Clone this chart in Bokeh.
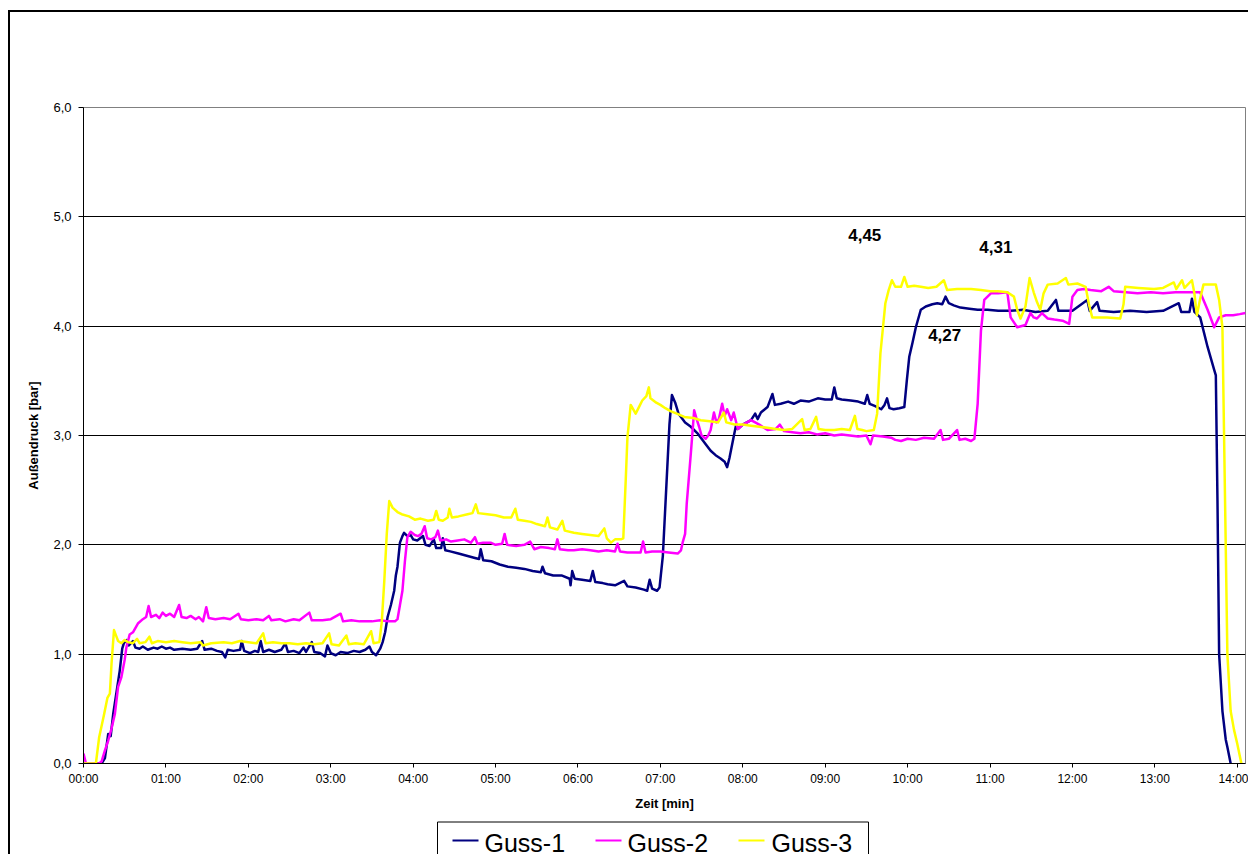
from bokeh.plotting import figure
from bokeh.models import Range1d, FixedTicker, Label
from bokeh.layouts import column
from bokeh.core.properties import value
from bokeh.embed import file_html
from bokeh.resources import INLINE

# ---------------- data (time in minutes, pressure in bar) ----------------
g1_t = [0.0, 0.22, 0.26, 0.3, 0.33, 0.36, 0.4, 0.44, 0.47, 0.49, 0.52, 0.55, 0.6, 0.63, 0.68, 0.72, 0.78, 0.85, 0.9, 0.95,
        1.0, 1.05, 1.1, 1.2, 1.3, 1.38, 1.44, 1.47, 1.55, 1.62, 1.68, 1.72, 1.75, 1.82, 1.9, 1.92, 1.95, 2.02, 2.08, 2.12,
        2.15, 2.18, 2.25, 2.32, 2.4, 2.45, 2.48, 2.55, 2.62, 2.67, 2.7, 2.77, 2.8, 2.87, 2.93, 2.96, 3.0, 3.06, 3.12, 3.2,
        3.28, 3.35, 3.42, 3.47, 3.5, 3.55, 3.6, 3.63, 3.66, 3.69, 3.73, 3.77, 3.79, 3.81, 3.84, 3.87, 3.89, 3.93, 3.97, 4.0,
        4.05, 4.12, 4.15, 4.2, 4.25, 4.28, 4.34, 4.36, 4.39, 4.45, 4.55, 4.65, 4.75, 4.8, 4.82, 4.85, 4.95, 5.05, 5.15, 5.25,
        5.35, 5.45, 5.55, 5.57, 5.6, 5.7, 5.8, 5.9, 5.91, 5.93, 5.96, 6.05, 6.15, 6.18, 6.21, 6.3, 6.36, 6.45, 6.56, 6.6,
        6.7, 6.8, 6.84, 6.87, 6.9, 6.96, 6.99, 7.03, 7.07, 7.11, 7.14, 7.18, 7.22, 7.25, 7.3, 7.37, 7.45, 7.5, 7.55, 7.61,
        7.67, 7.73, 7.78, 7.81, 7.84, 7.89, 7.92, 7.94, 8.0, 8.1, 8.15, 8.18, 8.22, 8.3, 8.36, 8.39, 8.46, 8.55, 8.62, 8.7,
        8.8, 8.91, 9.0, 9.08, 9.11, 9.14, 9.2, 9.31, 9.4, 9.48, 9.51, 9.54, 9.6, 9.63, 9.68, 9.72, 9.75, 9.78, 9.83, 9.9,
        9.96, 9.99, 10.02, 10.06, 10.1, 10.16, 10.22, 10.3, 10.36, 10.42, 10.46, 10.5, 10.56, 10.64, 10.75, 10.85, 10.97,
        11.1, 11.25, 11.4, 11.55, 11.7, 11.8, 11.83, 12.0, 12.18, 12.21, 12.3, 12.33, 12.5, 12.7, 12.9, 13.1, 13.29, 13.32,
        13.42, 13.45, 13.48, 13.55, 13.64, 13.72, 13.74, 13.76, 13.78, 13.82, 13.86, 13.88, 13.92]
g1_v = [0.0, 0.0, 0.05, 0.27, 0.25, 0.45, 0.65, 0.85, 1.05, 1.1, 1.13, 1.08, 1.12, 1.06, 1.05, 1.07, 1.04, 1.06, 1.05, 1.07,
        1.05, 1.06, 1.04, 1.05, 1.04, 1.05, 1.12, 1.04, 1.05, 1.03, 1.02, 0.97, 1.04, 1.03, 1.04, 1.12, 1.03, 1.01, 1.03, 1.02,
        1.12, 1.02, 1.04, 1.02, 1.04, 1.1, 1.02, 1.03, 1.01, 1.06, 1.02, 1.11, 1.02, 1.01, 0.98, 1.08, 1.01, 0.99, 1.02, 1.01,
        1.03, 1.02, 1.04, 1.07, 1.02, 0.99, 1.05, 1.11, 1.2, 1.34, 1.45, 1.58, 1.72, 1.8, 2.02, 2.08, 2.11, 2.08, 2.09, 2.05,
        2.04, 2.08, 2.0, 1.99, 2.05, 1.97, 1.97, 2.06, 1.95, 1.94, 1.92, 1.9, 1.88, 1.87, 1.96, 1.86, 1.85, 1.82, 1.8, 1.79,
        1.78, 1.76, 1.75, 1.8, 1.74, 1.72, 1.72, 1.69, 1.63, 1.76, 1.69, 1.68, 1.67, 1.76, 1.66, 1.65, 1.64, 1.63, 1.67, 1.62,
        1.61, 1.59, 1.58, 1.68, 1.6, 1.58, 1.61, 1.9, 2.5, 3.1, 3.37, 3.3, 3.2, 3.17, 3.12, 3.08, 3.02, 2.97, 2.92, 2.86,
        2.82, 2.79, 2.76, 2.71, 2.8, 2.99, 3.1, 3.06, 3.1, 3.14, 3.2, 3.15, 3.21, 3.26, 3.38, 3.28, 3.29, 3.31, 3.29, 3.32,
        3.31, 3.34, 3.33, 3.33, 3.44, 3.34, 3.33, 3.32, 3.31, 3.29, 3.37, 3.29, 3.27, 3.26, 3.24, 3.28, 3.34, 3.25, 3.24, 3.25,
        3.26, 3.5, 3.72, 3.85, 3.99, 4.15, 4.18, 4.2, 4.21, 4.2, 4.27, 4.21, 4.19, 4.17, 4.16, 4.15, 4.15,
        4.14, 4.14, 4.15, 4.13, 4.14, 4.24, 4.14, 4.14, 4.24, 4.14, 4.22, 4.14, 4.13, 4.14, 4.13, 4.14, 4.21, 4.13,
        4.13, 4.25, 4.13, 4.08, 3.81, 3.6, 3.55, 2.4, 1.0, 0.48, 0.22, 0.15, 0.0]

g2_t = [0.0, 0.03, 0.19, 0.22, 0.26, 0.3, 0.34, 0.38, 0.42, 0.46, 0.5, 0.52, 0.56, 0.6, 0.66, 0.72, 0.76, 0.79, 0.82, 0.88,
        0.92, 0.96, 1.0, 1.05, 1.1, 1.16, 1.19, 1.25, 1.3, 1.36, 1.4, 1.45, 1.49, 1.52, 1.6, 1.7, 1.78, 1.88, 1.91, 2.0,
        2.1, 2.18, 2.25, 2.28, 2.38, 2.45, 2.55, 2.62, 2.74, 2.77, 2.9, 3.0, 3.12, 3.15, 3.25, 3.35, 3.5, 3.6, 3.7, 3.78,
        3.81, 3.84, 3.87, 3.9, 3.93, 3.97, 4.02, 4.06, 4.1, 4.14, 4.17, 4.22, 4.27, 4.3, 4.33, 4.4, 4.46, 4.54, 4.62, 4.7,
        4.75, 4.78, 4.85, 4.94, 5.0, 5.08, 5.11, 5.14, 5.25, 5.35, 5.42, 5.47, 5.55, 5.65, 5.72, 5.75, 5.78, 5.88, 5.95, 6.05,
        6.15, 6.25, 6.35, 6.45, 6.48, 6.51, 6.6, 6.7, 6.76, 6.79, 6.82, 6.9, 7.0, 7.1, 7.21, 7.25, 7.27, 7.3, 7.32, 7.37,
        7.41, 7.44, 7.47, 7.5, 7.55, 7.58, 7.61, 7.65, 7.68, 7.71, 7.75, 7.78, 7.81, 7.83, 7.86, 7.89, 7.94, 8.0, 8.1, 8.2,
        8.3, 8.4, 8.45, 8.5, 8.6, 8.7, 8.8, 8.9, 9.0, 9.11, 9.2, 9.3, 9.4, 9.5, 9.55, 9.58, 9.7, 9.8, 9.85, 9.92,
        10.0, 10.1, 10.2, 10.32, 10.4, 10.43, 10.5, 10.6, 10.63, 10.7, 10.77, 10.81, 10.85, 10.89, 10.93, 11.01, 11.1, 11.21,
        11.25, 11.33, 11.43, 11.49, 11.53, 11.57, 11.63, 11.7, 11.78, 11.88, 11.96, 12.0, 12.06, 12.14, 12.22, 12.35, 12.44,
        12.5, 12.65, 12.79, 12.95, 13.1, 13.25, 13.39, 13.55, 13.64, 13.72, 13.78, 13.86, 13.95, 14.03, 14.1]
g2_v = [0.09, 0.0, 0.0, 0.02, 0.12, 0.21, 0.32, 0.45, 0.7, 0.79, 0.95, 1.06, 1.18, 1.2, 1.28, 1.32, 1.34, 1.44, 1.34, 1.36,
        1.33, 1.38, 1.35, 1.37, 1.34, 1.45, 1.34, 1.33, 1.35, 1.32, 1.34, 1.3, 1.43, 1.33, 1.32, 1.33, 1.32, 1.37, 1.32, 1.31,
        1.32, 1.31, 1.35, 1.31, 1.32, 1.3, 1.32, 1.31, 1.38, 1.31, 1.31, 1.32, 1.37, 1.3, 1.31, 1.3, 1.3, 1.31, 1.3, 1.3,
        1.32, 1.45, 1.58, 1.85, 2.07, 2.12, 2.09, 2.08, 2.1, 2.17, 2.06, 2.05, 2.07, 2.13, 2.04, 2.05, 2.03, 2.04, 2.05, 2.02,
        2.07, 2.01, 2.02, 2.02, 2.0, 2.01, 2.1, 2.0, 1.99, 2.0, 2.03, 1.96, 1.98, 1.97, 1.96, 2.05, 1.96, 1.95, 1.95, 1.96,
        1.95, 1.94, 1.95, 1.94, 2.01, 1.94, 1.93, 1.93, 1.93, 2.03, 1.93, 1.94, 1.94, 1.93, 1.92, 1.95, 2.02, 2.1, 2.38, 2.84,
        3.23, 3.15, 3.08, 3.0, 2.97, 3.0, 3.05, 3.21, 3.12, 3.15, 3.29, 3.18, 3.24, 3.2, 3.14, 3.21, 3.06, 3.1, 3.14, 3.1,
        3.05, 3.06, 3.1, 3.04, 3.03, 3.02, 3.03, 3.01, 3.02, 3.0, 3.01, 3.0, 2.99, 3.0, 2.92, 3.0, 2.99, 2.98, 2.96, 2.95,
        2.97, 2.96, 2.98, 2.97, 3.05, 2.96, 2.97, 3.05, 2.96, 2.97, 2.95, 2.97, 3.29, 3.96, 4.24, 4.3, 4.3, 4.31,
        4.08, 3.99, 4.01, 4.12, 4.08, 4.07, 4.12, 4.07, 4.06, 4.05, 4.02, 4.27, 4.33, 4.34, 4.33, 4.32, 4.36,
        4.32, 4.31, 4.3, 4.31, 4.3, 4.31, 4.31, 4.31, 4.15, 3.99, 4.08, 4.1, 4.1, 4.11, 4.12]

g3_t = [0.0, 0.15, 0.19, 0.25, 0.29, 0.32, 0.34, 0.37, 0.4, 0.42, 0.46, 0.5, 0.54, 0.6, 0.65, 0.68, 0.75, 0.8, 0.83, 0.9,
        1.0, 1.1, 1.2, 1.3, 1.42, 1.45, 1.55, 1.7, 1.8, 1.9, 2.0, 2.1, 2.18, 2.21, 2.3, 2.4, 2.5, 2.6, 2.7, 2.8,
        2.9, 2.98, 3.01, 3.1, 3.19, 3.22, 3.3, 3.4, 3.49, 3.52, 3.59, 3.62, 3.65, 3.68, 3.71, 3.75, 3.81, 3.86, 3.95, 4.02,
        4.09, 4.18, 4.25, 4.28, 4.31, 4.36, 4.42, 4.44, 4.47, 4.55, 4.66, 4.72, 4.76, 4.79, 4.9, 5.0, 5.1, 5.19, 5.24, 5.27,
        5.35, 5.43, 5.5, 5.6, 5.63, 5.66, 5.75, 5.81, 5.84, 5.95, 6.05, 6.15, 6.25, 6.32, 6.35, 6.4, 6.45, 6.52, 6.55, 6.58,
        6.6, 6.64, 6.7, 6.74, 6.78, 6.83, 6.86, 6.88, 6.95, 7.0, 7.06, 7.13, 7.2, 7.29, 7.4, 7.49, 7.6, 7.7, 7.77, 7.8,
        7.9, 8.0, 8.1, 8.2, 8.3, 8.4, 8.5, 8.6, 8.72, 8.75, 8.82, 8.89, 8.92, 9.0, 9.11, 9.2, 9.3, 9.36, 9.39, 9.45,
        9.5, 9.59, 9.63, 9.67, 9.73, 9.77, 9.81, 9.85, 9.92, 9.96, 10.0, 10.08, 10.16, 10.25, 10.35, 10.44, 10.48, 10.6, 10.77,
        10.89, 11.0, 11.1, 11.21, 11.29, 11.33, 11.37, 11.43, 11.48, 11.53, 11.57, 11.61, 11.65, 11.7, 11.82, 11.92, 11.95,
        12.06, 12.16, 12.2, 12.24, 12.42, 12.58, 12.62, 12.64, 12.8, 12.99, 13.1, 13.23, 13.26, 13.33, 13.36, 13.45, 13.48,
        13.51, 13.55, 13.59, 13.74, 13.78, 13.82, 13.85, 13.88, 13.92, 13.96, 14.0, 14.05]
g3_v = [0.0, 0.0, 0.24, 0.45, 0.6, 0.64, 0.91, 1.22, 1.16, 1.12, 1.1, 1.13, 1.11, 1.1, 1.14, 1.1, 1.11, 1.16, 1.1, 1.12,
        1.11, 1.12, 1.11, 1.1, 1.11, 1.08, 1.1, 1.11, 1.1, 1.12, 1.11, 1.1, 1.19, 1.1, 1.11, 1.1, 1.1, 1.09, 1.1, 1.09,
        1.1, 1.19, 1.09, 1.08, 1.17, 1.09, 1.1, 1.09, 1.21, 1.1, 1.11, 1.3, 1.67, 2.1, 2.4, 2.34, 2.3, 2.28, 2.26, 2.23,
        2.24, 2.22, 2.23, 2.31, 2.23, 2.22, 2.25, 2.33, 2.25, 2.26, 2.28, 2.29, 2.37, 2.29, 2.28, 2.27, 2.25, 2.25, 2.33, 2.23,
        2.22, 2.21, 2.19, 2.17, 2.25, 2.16, 2.14, 2.22, 2.13, 2.11, 2.1, 2.09, 2.08, 2.15, 2.06, 2.02, 2.05, 2.05, 2.06, 2.6,
        2.98, 3.28, 3.2, 3.26, 3.32, 3.36, 3.44, 3.34, 3.3, 3.28, 3.25, 3.22, 3.2, 3.17, 3.16, 3.14, 3.13, 3.12, 3.21, 3.12,
        3.1, 3.1, 3.09, 3.08, 3.07, 3.06, 3.05, 3.06, 3.15, 3.05, 3.06, 3.17, 3.06, 3.05, 3.05, 3.06, 3.05, 3.18, 3.06, 3.05,
        3.04, 3.05, 3.2, 3.75, 4.21, 4.33, 4.42, 4.36, 4.36, 4.45, 4.36, 4.37, 4.36, 4.35, 4.36, 4.42, 4.33, 4.34, 4.34,
        4.33, 4.32, 4.32, 4.31, 4.27, 4.15, 4.07, 4.18, 4.44, 4.31, 4.22, 4.15, 4.3, 4.38, 4.39, 4.44, 4.38,
        4.39, 4.36, 4.2, 4.08, 4.08, 4.07, 4.2, 4.36, 4.35, 4.34, 4.35, 4.4, 4.34, 4.42, 4.35, 4.42, 4.3,
        4.1, 4.25, 4.38, 4.38, 4.24, 3.99, 2.5, 1.0, 0.48, 0.31, 0.18, 0.0]

series_names = ["Guss-1", "Guss-2", "Guss-3"]
series_colors = ["#000080", "#FF00FF", "#FFFF00"]

x_ticks = list(range(15))
x_tick_labels = ["00:00", "01:00", "02:00", "03:00", "04:00", "05:00", "06:00", "07:00",
                 "08:00", "09:00", "10:00", "11:00", "12:00", "13:00", "14:00"]
y_ticks = [0, 1, 2, 3, 4, 5, 6]
y_tick_labels = ["0,0", "1,0", "2,0", "3,0", "4,0", "5,0", "6,0"]

annot_text = ["4,45", "4,31", "4,27"]
annot_x = [9.48, 11.07, 10.45]
annot_y = [4.83, 4.72, 3.92]

FONT = "Liberation Sans"
BORDER = "2px solid #000000"

# ---------------- main chart ----------------
W = 1240
MB_L, MB_R = 73, 5
p = figure(width=W, height=801, output_backend="svg", toolbar_location=None,
           x_range=Range1d(0, 14.1), y_range=Range1d(0, 6),
           min_border_left=MB_L, min_border_right=MB_R, min_border_top=95, min_border_bottom=50)
p.styles = {"border-left": BORDER, "border-top": BORDER}
p.background_fill_color = "white"
p.border_fill_color = "white"
p.outline_line_color = "#808080"
p.outline_line_width = 1

for t, v, c in [(g1_t, g1_v, series_colors[0]), (g2_t, g2_v, series_colors[1]), (g3_t, g3_v, series_colors[2])]:
    p.line(t, v, line_color=c, line_width=2.5, line_join="round")

p.xaxis.ticker = FixedTicker(ticks=x_ticks)
p.xaxis.major_label_overrides = {t: l for t, l in zip(x_ticks, x_tick_labels)}
p.yaxis.ticker = FixedTicker(ticks=y_ticks)
p.yaxis.major_label_overrides = {t: l for t, l in zip(y_ticks, y_tick_labels)}
for ax in (p.xaxis[0], p.yaxis[0]):
    ax.axis_line_color = "black"
    ax.major_tick_line_color = "black"
    ax.minor_tick_line_color = None
    ax.major_tick_in = 0
    ax.major_label_text_font = FONT
    ax.major_label_text_color = "black"
    ax.axis_label_text_font = FONT
    ax.axis_label_text_font_style = "bold"
    ax.axis_label_text_font_size = "13px"
    ax.axis_label_text_color = "black"
p.xaxis.major_tick_out = 4
p.yaxis.major_tick_out = 5
p.xaxis.major_label_text_font_size = "12px"
p.yaxis.major_label_text_font_size = "13px"
p.xaxis.major_label_standoff = 4
p.yaxis.major_label_standoff = 7
p.xaxis.axis_label = "Zeit [min]"
p.yaxis.axis_label = "Außendruck [bar]"
p.xaxis.axis_label_standoff = 7
p.yaxis.axis_label_standoff = 9

p.xgrid.grid_line_color = None
p.ygrid.ticker = FixedTicker(ticks=[1, 2, 3, 4, 5])
p.ygrid.grid_line_color = "black"
p.ygrid.grid_line_width = 1

for txt, ax_, ay_ in zip(annot_text, annot_x, annot_y):
    p.add_layout(Label(x=ax_, y=ay_, text=txt, text_align="center", text_baseline="middle",
                       text_font=FONT, text_font_style="bold", text_font_size="17px", text_color="black"))

# ---------------- legend strip (canvas pixel coordinates, y downwards) ----------------
LH = 43
leg_box = dict(left=427, right=858, top=10.5, bottom=70)
leg_line_x0 = [442, 585, 728]
leg_line_len = 26
leg_line_y = 29
leg_text_x = [474, 617, 761]
leg_text_y = 31

p2 = figure(width=W, height=LH, output_backend="svg", toolbar_location=None,
            x_range=Range1d(MB_L, W - MB_R), y_range=Range1d(LH, 0),
            x_axis_location=None, y_axis_location=None,
            min_border_left=MB_L, min_border_right=MB_R, min_border_top=0, min_border_bottom=0)
p2.styles = {"border-left": BORDER}
p2.outline_line_color = None
p2.grid.grid_line_color = None
p2.background_fill_color = "white"
p2.border_fill_color = "white"
p2.quad(left=[leg_box["left"]], right=[leg_box["right"]], top=[leg_box["top"]], bottom=[leg_box["bottom"]],
        fill_color="white", line_color="black", line_width=1)
p2.segment(x0=leg_line_x0, x1=[x + leg_line_len for x in leg_line_x0],
           y0=[leg_line_y] * 3, y1=[leg_line_y] * 3, line_color=series_colors, line_width=2)
p2.text(x=leg_text_x, y=[leg_text_y] * 3, text=series_names, text_font=value(FONT), text_font_size="25px",
        text_color="black", text_align="left", text_baseline="alphabetic")

layout = column(p, p2, spacing=0)
layout.styles = {"margin-left": "8px", "margin-top": "10px"}

open("out.html", "w").write(file_html(layout, INLINE))
